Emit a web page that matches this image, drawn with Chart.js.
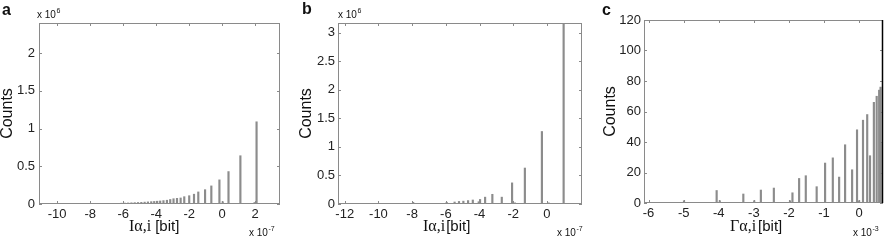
<!DOCTYPE html>
<html>
<head>
<meta charset="utf-8">
<script src="https://cdn.jsdelivr.net/npm/chart.js@4.4.1/dist/chart.umd.min.js"></script>
<style>
body { margin: 0; background: #fff; }
#wrap { position: relative; width: 887px; height: 246px; overflow: hidden; }
canvas { position: absolute; top: 0; }
</style>
</head>
<body>
<div id="wrap">
<canvas id="chartA" width="290" height="246" style="left:0px"></canvas>
<canvas id="chartB" width="297" height="246" style="left:290px"></canvas>
<canvas id="chartC" width="297" height="246" style="left:590px"></canvas>
</div>
<script>
// panel a : x in units of 1e-7 bit, counts in units of 1e6
const aX = [-10.8, -10.3, -9.8, -9.3, -8.8, -8.3, -8.0, -7.6, -7.3, -7.0, -6.7, -6.4, -6.1, -5.9, -5.7, -5.5, -5.3, -5.1, -4.9, -4.7, -4.5, -4.3, -4.12, -3.94, -3.76, -3.56, -3.35, -3.15, -2.95, -2.74, -2.52, -2.3, -2.0, -1.71, -1.45, -1.04, -0.66, -0.17, 0.03, 0.38, 1.10, 1.96, 2.08];
const aY = [0.002, 0.002, 0.002, 0.002, 0.002, 0.003, 0.004, 0.005, 0.006, 0.007, 0.008, 0.009, 0.011, 0.012, 0.014, 0.016, 0.018, 0.02, 0.022, 0.025, 0.028, 0.031, 0.034, 0.037, 0.04, 0.045, 0.05, 0.06, 0.07, 0.075, 0.08, 0.097, 0.11, 0.13, 0.16, 0.19, 0.24, 0.32, 0.03, 0.43, 0.64, 0.02, 1.09];
const aXTicks = [-10, -8, -6, -4, -2, 0, 2];
const aYTicks = [0, 0.5, 1, 1.5, 2];

// panel b : x in units of 1e-7 bit, counts in units of 1e6
const bX = [-12.2, -11.8, -11.4, -11.0, -10.5, -9.8, -9.0, -8.4, -7.94, -7.4, -7.1, -6.8, -6.5, -6.21, -5.95, -5.48, -5.22, -4.96, -4.68, -4.40, -4.05, -3.97, -3.67, -3.24, -2.68, -2.07, -1.90, -1.31, -0.30, 0.10, 0.99];
const bY = [0.003, 0.003, 0.003, 0.003, 0.002, 0.002, 0.002, 0.003, 0.03, 0.005, 0.006, 0.008, 0.01, 0.012, 0.03, 0.035, 0.045, 0.05, 0.06, 0.07, 0.04, 0.08, 0.12, 0.17, 0.12, 0.37, 0.02, 0.63, 1.27, 0.02, 3.3];
const bXTicks = [-12, -10, -8, -6, -4, -2, 0];
const bYTicks = [0, 0.5, 1, 1.5, 2, 2.5, 3];

// panel c : x in units of 1e-3 bit, plain counts
const cX = [-4.99, -4.06, -3.97, -3.30, -2.99, -2.80, -2.43, -1.97, -1.90, -1.71, -1.52, -1.21, -0.97, -0.75, -0.57, -0.40, -0.20, -0.06, 0.0, 0.11, 0.23, 0.31, 0.42, 0.50, 0.57, 0.61, 0.67];
const cY = [1.5, 8.2, 1.5, 5.9, 1.5, 8.5, 9.8, 1.5, 6.7, 16.1, 17.9, 10.7, 26.2, 29.6, 17, 38.2, 21.8, 48, 1.5, 54.3, 58, 31, 66, 70, 74, 76, 39];
const cXTicks = [-6, -5, -4, -3, -2, -1, 0];
const cYTicks = [0, 20, 40, 60, 80, 100, 120];

const SANS = '"Liberation Sans", Arial, sans-serif';
const SERIF = '"Liberation Serif", "Times New Roman", serif';
const H = 246;

// x 10^n style multiplier
const drawMult = (ctx, x, y, exp) =>
{
    ctx.font = '10px ' + SANS;
    ctx.fillText('x 10', x, y);
    const w = ctx.measureText('x 10').width;
    ctx.font = '7px ' + SANS;
    ctx.fillText(exp, x + w + 0.5, y - 5);
};

const makePanel = (id, p) =>
{
    const frame =
    {
        id: 'frame' + id,
        afterDraw: (chart) =>
        {
            const ctx = chart.ctx;
            const a = chart.chartArea;
            const xs = chart.scales.x;
            const ys = chart.scales.y;
            ctx.save();

            // box with inward ticks, matlab style
            ctx.strokeStyle = '#8a8a8a';
            ctx.lineWidth = 1;
            ctx.strokeRect(a.left + 0.5, a.top + 0.5, a.right - a.left - 1, a.bottom - a.top - 1);
            ctx.beginPath();
            xs.ticks.forEach((t) =>
            {
                const px = Math.round(xs.getPixelForValue(t.value)) + 0.5;
                ctx.moveTo(px, a.bottom); ctx.lineTo(px, a.bottom - 3);
                ctx.moveTo(px, a.top); ctx.lineTo(px, a.top + 3);
            });
            ys.ticks.forEach((t) =>
            {
                const py = Math.round(ys.getPixelForValue(t.value)) + 0.5;
                ctx.moveTo(a.left, py); ctx.lineTo(a.left + 3, py);
                ctx.moveTo(a.right, py); ctx.lineTo(a.right - 3, py);
            });
            ctx.stroke();

            if (p.rightEdge)
            {
                ctx.strokeStyle = p.rightEdge;
                ctx.lineWidth = 1.5;
                ctx.beginPath();
                ctx.moveTo(a.right - 0.5, a.top);
                ctx.lineTo(a.right - 0.5, a.bottom);
                ctx.stroke();
            }

            ctx.fillStyle = '#111';
            ctx.textBaseline = 'alphabetic';
            ctx.textAlign = 'left';

            // panel letter
            ctx.font = 'bold 16px ' + SANS;
            ctx.fillText(p.letter, p.letterX, p.letterY);

            // x label : symbol in serif, unit in sans
            ctx.font = '16px ' + SERIF;
            ctx.fillText(p.sym, p.labelX, 231);
            const w = ctx.measureText(p.sym).width;
            ctx.font = '15px ' + SANS;
            ctx.fillText('[bit]', p.labelX + w + p.gap, 231);

            if (p.topExp) drawMult(ctx, p.topMultX, 18, p.topExp);
            drawMult(ctx, p.botMultX, 236, p.botExp);

            ctx.restore();
        }
    };

    new Chart(document.getElementById(id),
    {
        type: 'bar',
        data:
        {
            datasets:
            [
                {
                    data: p.x.map((v, i) => ({ x: v, y: p.y[i] })),
                    backgroundColor: '#8c8c8c',
                    borderWidth: 0,
                    barThickness: 1.5
                }
            ]
        },
        options:
        {
            responsive: false,
            animation: false,
            devicePixelRatio: 1,
            layout: { padding: { left: 0, top: p.top, right: p.right, bottom: 0 } },
            plugins: { legend: { display: false }, tooltip: { enabled: false } },
            scales:
            {
                x:
                {
                    type: 'linear',
                    offset: false,
                    min: p.xMin,
                    max: p.xMax,
                    grid: { display: false, drawTicks: false, offset: false },
                    border: { display: false },
                    afterBuildTicks: (s) => { s.ticks = p.xTicks.map((v) => ({ value: v })); },
                    afterFit: (s) => { s.height = H - p.bottom; },
                    ticks:
                    {
                        autoSkip: false,
                        maxRotation: 0,
                        padding: 3,
                        color: '#222',
                        font: { family: SANS, size: 13 },
                        callback: (v) => String(v)
                    }
                },
                y:
                {
                    type: 'linear',
                    min: 0,
                    max: p.yMax,
                    grid: { display: false, drawTicks: false },
                    border: { display: false },
                    afterBuildTicks: (s) => { s.ticks = p.yTicks.map((v) => ({ value: v })); },
                    afterFit: (s) => { s.width = p.left; },
                    ticks:
                    {
                        padding: p.yPad,
                        color: '#222',
                        font: { family: SANS, size: 13 },
                        callback: (v) => String(v)
                    },
                    title:
                    {
                        display: true,
                        text: 'Counts',
                        color: '#111',
                        padding: { top: p.titlePad, bottom: 0 },
                        font: { family: SANS, size: 16 }
                    }
                }
            }
        },
        plugins: [frame]
    });
};

makePanel('chartA',
{
    x: aX, y: aY, xTicks: aXTicks, yTicks: aYTicks,
    xMin: -11.1, xMax: 3.5, yMax: 2.4,
    left: 39, right: 10, top: 23, bottom: 204, yPad: 4, titlePad: -2,
    letter: 'a', letterX: 2, letterY: 15,
    sym: 'I\u03b1,i', labelX: 129, gap: 4,
    topExp: '6', topMultX: 37, botExp: '-7', botMultX: 249
});

makePanel('chartB',
{
    x: bX, y: bY, xTicks: bXTicks, yTicks: bYTicks,
    xMin: -12.4, xMax: 2.08, yMax: 3.17,
    left: 48, right: 5, top: 23, bottom: 204, yPad: 3, titlePad: 7,
    letter: 'b', letterX: 12, letterY: 14,
    sym: 'I\u03b1,i', labelX: 133, gap: 1,
    topExp: '6', topMultX: 48, botExp: '-7', botMultX: 267
});

makePanel('chartC',
{
    x: cX, y: cY, xTicks: cXTicks, yTicks: cYTicks,
    xMin: -6.13, xMax: 0.68, yMax: 120,
    left: 54, right: 4, top: 20, bottom: 203, yPad: 3, titlePad: 11,
    letter: 'c', letterX: 12, letterY: 15,
    sym: '\u0393\u03b1,i', labelX: 140, gap: 2,
    topExp: '', topMultX: 0, botExp: '-3', botMultX: 263,
    rightEdge: '#000'
});
</script>
</body>
</html>
